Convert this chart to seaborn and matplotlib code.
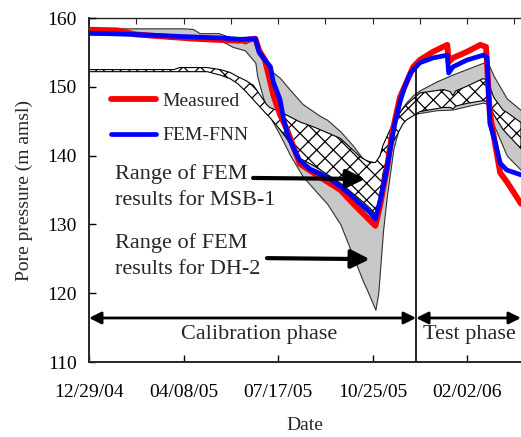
import numpy as np
import pandas as pd
import seaborn as sns
import matplotlib.pyplot as plt

start = pd.Timestamp("2004-12-29")

# days after 12/29/04 and pore pressure (m amsl)
meas_day = [0, 30, 50, 80, 110, 140, 160, 176, 180, 186, 189, 195, 202, 210, 223, 244, 266, 281, 297, 303,
            308, 315, 321, 329, 343, 350, 364, 379, 380.5, 385, 400, 414, 420, 424, 432, 435, 442, 450, 457]
meas_val = [158.3, 158.2, 157.6, 157.3, 157.0, 156.8, 156.7, 157.0, 155.3, 153.9, 152.3, 148.8, 146.0, 143.6,
            138.8, 136.9, 135.0, 132.8, 130.6, 129.8, 132.8, 138.0, 143.5, 148.5, 152.9, 153.9, 155.1, 156.1,
            153.6, 154.2, 155.1, 156.1, 155.8, 146.2, 139.8, 137.5, 136.2, 134.5, 133.0]

fnn_day = [0, 50, 100, 140, 160, 176, 180, 192, 195, 202, 206, 211, 218, 223, 234, 244, 255, 266, 276, 287,
           297, 303, 308, 315, 321, 324, 329, 334, 340, 350, 364, 379, 380.5, 385, 400, 417, 421, 424, 430, 435,
           442, 457]
fnn_val = [157.8, 157.6, 157.3, 157.1, 156.9, 157.0, 155.0, 152.9, 150.7, 148.2, 145.2, 142.7, 140.6, 139.3,
           138.0, 137.4, 136.6, 135.5, 134.4, 133.0, 131.8, 130.8, 133.5, 138.0, 142.8, 145.0, 147.8, 150.0,
           152.0, 153.5, 154.2, 154.6, 152.0, 152.9, 153.9, 154.6, 154.3, 144.7, 141.8, 138.9, 137.9, 137.2]

# range of FEM results for DH-2 (grey band)
dh2_day = [0, 50, 100, 110, 117, 137, 152, 165, 176, 178, 184, 190, 202, 213, 226, 244, 252, 266, 279, 290,
           294, 303, 306, 311, 315, 322, 329, 336, 343, 350, 368, 385, 400, 417, 422, 428, 442, 457]
dh2_hi = [158.5, 158.5, 158.5, 158.4, 157.8, 157.8, 157.1, 156.3, 157.0, 156.0, 153.8, 152.6, 151.3, 149.5,
          147.5, 145.8, 145.2, 143.5, 141.5, 139.5, 139.3, 139.0, 139.5, 141.5, 142.8, 145.0, 146.5, 147.8,
          148.8, 149.5, 150.8, 151.8, 152.6, 153.5, 153.5, 151.6, 148.3, 146.6]
dh2_lo = [157.6, 157.5, 157.2, 157.1, 157.0, 156.9, 155.8, 155.3, 153.5, 151.5, 148.5, 146.0, 143.0, 140.0,
          137.0, 134.2, 133.0, 130.0, 125.5, 121.7, 120.5, 117.6, 120.0, 129.0, 134.0, 141.0, 144.6, 145.6,
          146.0, 146.2, 146.6, 146.7, 147.2, 147.7, 147.5, 144.5, 140.0, 137.9]

# range of FEM results for MSB-1 (hatched band)
msb_day = [0, 90, 96, 125, 139, 149, 157, 166, 174, 188, 191, 202, 209, 223, 237, 244, 266, 287, 297, 303,
           308, 311, 322, 332, 336, 350, 375, 382, 385, 388, 400, 417, 422, 428, 438, 442, 457]
msb_hi = [152.5, 152.5, 152.8, 152.8, 152.5, 152.1, 151.5, 150.9, 150.2, 147.4, 147.0, 146.4, 145.9, 144.9,
          144.2, 143.8, 142.5, 139.8, 139.0, 139.0, 140.0, 141.5, 144.8, 146.8, 147.4, 149.1, 149.6, 149.3,
          148.7, 149.4, 150.1, 151.2, 150.9, 148.5, 146.6, 146.3, 144.8]
msb_lo = [152.2, 152.2, 152.2, 152.2, 151.7, 151.2, 150.5, 149.3, 148.1, 146.0, 145.6, 143.8, 142.5, 139.6,
          138.6, 138.0, 136.0, 133.6, 132.4, 131.5, 134.5, 137.5, 142.0, 144.6, 145.2, 146.4, 147.0, 147.0,
          146.8, 147.2, 147.6, 148.0, 147.8, 146.0, 143.8, 143.2, 141.0]

tick_labels = ["12/29/04", "04/08/05", "07/17/05", "10/25/05", "02/02/06"]
split_day = 346   # end of calibration phase
last_day = 457


def dates(days):
    return start + pd.to_timedelta(days, unit="D")


df = pd.concat([
    pd.DataFrame({"Date": dates(meas_day), "p": meas_val, "series": "Measured"}),
    pd.DataFrame({"Date": dates(fnn_day), "p": fnn_val, "series": "FEM-FNN"}),
])

sns.set_style("ticks")
plt.rcParams["font.family"] = ["Liberation Serif", "DejaVu Serif"]
plt.rcParams["hatch.linewidth"] = 0.9

fig = plt.figure(figsize=(5.21, 4.37), dpi=100)
ax = fig.add_axes([0.1708, 0.1716, 0.8292, 0.7872])

ax.fill_between(dates(dh2_day), dh2_lo, dh2_hi, facecolor="#c8c8c8", edgecolor="#303030", lw=0.8, zorder=1)
ax.fill_between(dates(msb_day), msb_lo, msb_hi, facecolor="white", edgecolor="black", hatch="xx", lw=0.8, zorder=2)

sns.lineplot(data=df, x="Date", y="p", hue="series", palette={"Measured": "#ff0000", "FEM-FNN": "#0000ff"},
             size="series", sizes={"Measured": 4.2, "FEM-FNN": 3.4}, ax=ax, zorder=3, estimator=None, sort=False)

ax.set_xlim(dates(0), dates(last_day))
ax.set_ylim(110, 160)
ax.set_xticks(pd.to_datetime(tick_labels, format="%m/%d/%y"))
ax.set_xticklabels(tick_labels)
ax.set_yticks(range(110, 161, 10))
ax.tick_params(axis="both", direction="in", length=5, width=1, labelsize=14, colors="black")
ax.tick_params(axis="x", pad=16)
ax.tick_params(axis="y", pad=9)
top = ax.secondary_xaxis("top")
top.set_xticks(dates(np.arange(0, last_day, 50)))
top.set_xticklabels([])
top.tick_params(direction="in", length=4, width=0.8)
top.spines["top"].set_linewidth(1)
ax.spines["right"].set_visible(False)
ax.spines["top"].set_visible(False)
for s in ["left", "bottom"]:
    ax.spines[s].set_linewidth(1.4)

ax.set_xlabel("Date", fontsize=14, labelpad=11)
ax.set_ylabel("Pore pressure (m amsl)", fontsize=14, labelpad=10)

# phase split and arrows
ax.plot([dates(split_day), dates(split_day)], [110, 152.5], color="black", lw=1.2, zorder=4)
arrow = dict(arrowstyle="<|-|>", color="black", lw=2, mutation_scale=18, shrinkA=0, shrinkB=0)
ax.annotate("", xy=(dates(0), 116.4), xytext=(dates(split_day), 116.4), arrowprops=arrow, zorder=5)
ax.annotate("", xy=(dates(split_day), 116.4), xytext=(dates(last_day), 116.4), arrowprops=arrow, zorder=5)
ax.text(0.394, 0.080, "Calibration phase", transform=ax.transAxes, fontsize=16, ha="center", va="center")
ax.text(0.880, 0.080, "Test phase", transform=ax.transAxes, fontsize=16, ha="center", va="center")

# band labels
ax.text(0.060, 0.508, "Range of FEM\nresults for MSB-1", transform=ax.transAxes, fontsize=16,
        ha="left", va="center", linespacing=1.5, zorder=5)
ax.text(0.060, 0.309, "Range of FEM\nresults for DH-2", transform=ax.transAxes, fontsize=16,
        ha="left", va="center", linespacing=1.5, zorder=5)
pointer = dict(arrowstyle="-|>", color="black", lw=3, mutation_scale=28, shrinkA=0, shrinkB=0)
ax.annotate("", xy=(0.639, 0.532), xytext=(0.380, 0.535), xycoords="axes fraction", arrowprops=pointer, zorder=5)
ax.annotate("", xy=(0.650, 0.299), xytext=(0.412, 0.302), xycoords="axes fraction", arrowprops=pointer, zorder=5)

handles, labels = ax.get_legend_handles_labels()
ax.legend(handles, labels, loc="upper left", bbox_to_anchor=(0.052, 0.783), frameon=False, fontsize=14,
          handlelength=2.3, handletextpad=0.3, labelspacing=0.85, borderpad=0, borderaxespad=0)

fig.savefig("out.png", dpi=100)
